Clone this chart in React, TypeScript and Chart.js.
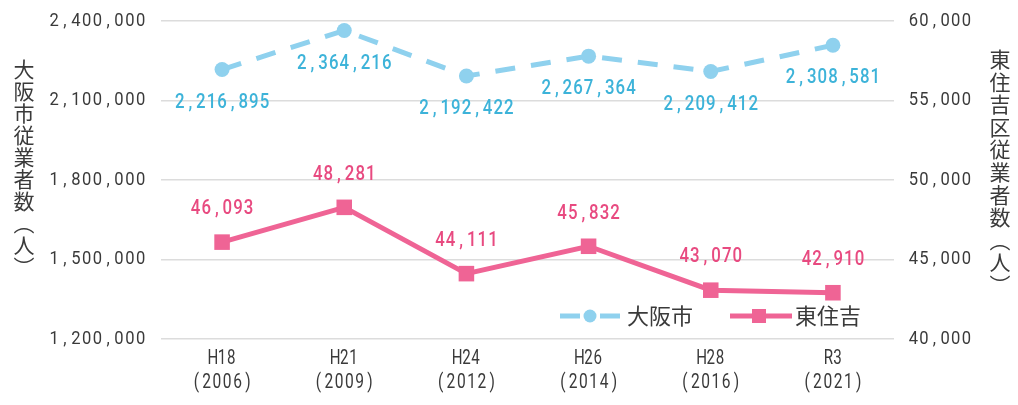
import React, { useEffect, useRef } from "react";
import { Chart, registerables } from "chart.js";

Chart.register(...registerables);

const yearLabels: string[] = ["H18", "H21", "H24", "H26", "H28", "R3"];
const yearNumbers: string[] = ["(2006)", "(2009)", "(2012)", "(2014)", "(2016)", "(2021)"];
const osakaValues: number[] = [2216895, 2364216, 2192422, 2267364, 2209412, 2308581];
const higashiValues: number[] = [46093, 48281, 44111, 45832, 43070, 42910];
const seriesNames: string[] = ["大阪市", "東住吉"];
const leftTitle: string[] = ["大", "阪", "市", "従", "業", "者", "数", "︵", "人", "︶"];
const rightTitle: string[] = ["東", "住", "吉", "区", "従", "業", "者", "数", "︵", "人", "︶"];

const BLUE = "#8fd1ee";
const BLUE_TEXT = "#3db3d9";
const PINK = "#ef6495";
const PINK_TEXT = "#e84a80";
const TEXT = "#3a3a3a";
const SANS = "Roboto, sans-serif";
const JP = "'Noto Sans CJK JP', sans-serif";

const fmt = (v: number) => v.toLocaleString("en-US");

// draw text in fixed-width cells (monospaced look, condensed glyphs)
function drawCells(
  ctx: CanvasRenderingContext2D,
  text: string,
  x: number,
  y: number,
  pitch: number,
  xscale: number,
  align: "left" | "right" | "center"
) {
  const chars = Array.from(text);
  const total = chars.length * pitch;
  let start = x;
  if (align === "right") start = x - total;
  else if (align === "center") start = x - total / 2;
  ctx.save();
  ctx.textAlign = "center";
  ctx.textBaseline = "middle";
  chars.forEach((c, i) => {
    const cx = start + pitch * (i + 0.5);
    ctx.save();
    ctx.translate(cx, y);
    ctx.scale(xscale, 1);
    ctx.fillText(c, 0, 0);
    ctx.restore();
  });
  ctx.restore();
}

const overlayPlugin = {
  id: "overlay",
  afterDraw(chart: any) {
    const ctx: CanvasRenderingContext2D = chart.ctx;
    ctx.save();

    // y tick labels
    const yl = chart.scales.y;
    const yr = chart.scales.y1;
    ctx.fillStyle = TEXT;
    ctx.font = `18px ${SANS}`;
    yl.ticks.forEach((t: any) => {
      const py = yl.getPixelForValue(t.value);
      drawCells(ctx, fmt(t.value), 146, py, 10.8, 0.92, "right");
    });
    yr.ticks.forEach((t: any) => {
      const py = yr.getPixelForValue(t.value);
      drawCells(ctx, fmt(t.value), 908, py, 10.6, 0.92, "left");
    });

    // x tick labels
    const xs = chart.scales.x;
    ctx.font = `21px ${SANS}`;
    yearLabels.forEach((lab, i) => {
      const px = xs.getPixelForValue(i);
      drawCells(ctx, lab, px, 359, 9.2, 0.72, "center");
      drawCells(ctx, yearNumbers[i], px, 383, 10.3, 0.74, "center");
    });

    // data labels
    ctx.font = `500 21px ${SANS}`;
    const m0 = chart.getDatasetMeta(0);
    ctx.fillStyle = BLUE_TEXT;
    m0.data.forEach((pt: any, i: number) => {
      drawCells(ctx, fmt(osakaValues[i]), pt.x, pt.y + 33, 10.6, 0.8, "center");
    });
    const m1 = chart.getDatasetMeta(1);
    ctx.fillStyle = PINK_TEXT;
    m1.data.forEach((pt: any, i: number) => {
      drawCells(ctx, fmt(higashiValues[i]), pt.x, pt.y - 33, 10.6, 0.8, "center");
    });

    // axis titles (vertical)
    ctx.fillStyle = TEXT;
    ctx.textAlign = "center";
    ctx.textBaseline = "middle";
    ctx.font = `21px ${JP}`;
    leftTitle.forEach((c, i) => {
      ctx.fillText(c, 24, 69 + i * 22);
    });
    rightTitle.forEach((c, i) => {
      ctx.fillText(c, 1000, 59 + i * 22.6);
    });

    // legend
    const ly = 316;
    ctx.strokeStyle = BLUE;
    ctx.lineWidth = 5;
    ctx.setLineDash([]);
    ctx.beginPath();
    ctx.moveTo(560, ly);
    ctx.lineTo(580, ly);
    ctx.moveTo(600, ly);
    ctx.lineTo(620, ly);
    ctx.stroke();
    ctx.fillStyle = BLUE;
    ctx.beginPath();
    ctx.arc(590, ly, 6.5, 0, Math.PI * 2);
    ctx.fill();
    ctx.fillStyle = TEXT;
    ctx.font = `22px ${JP}`;
    ctx.textAlign = "left";
    ctx.fillText(seriesNames[0], 627, ly);

    ctx.strokeStyle = PINK;
    ctx.beginPath();
    ctx.moveTo(730, ly);
    ctx.lineTo(792, ly);
    ctx.stroke();
    ctx.fillStyle = PINK;
    ctx.fillRect(752, ly - 7, 14, 14);
    ctx.fillStyle = TEXT;
    ctx.fillText(seriesNames[1], 795, ly);
    ctx.restore();
  },
};

export default function App() {
  const ref = useRef<HTMLCanvasElement | null>(null);
  useEffect(() => {
    if (!ref.current) return;
    const chart = new Chart(ref.current, {
      type: "line",
      data: {
        labels: yearLabels,
        datasets: [
          {
            label: seriesNames[0],
            data: osakaValues,
            yAxisID: "y",
            borderColor: BLUE,
            backgroundColor: BLUE,
            borderWidth: 5,
            borderDash: [20, 16],
            pointStyle: "circle",
            pointRadius: 7.5,
            pointBorderWidth: 0,
            pointBackgroundColor: BLUE,
            tension: 0,
          },
          {
            label: seriesNames[1],
            data: higashiValues,
            yAxisID: "y1",
            borderColor: PINK,
            backgroundColor: PINK,
            borderWidth: 5,
            pointStyle: "rect",
            pointRadius: 11,
            pointBorderWidth: 0,
            pointBackgroundColor: PINK,
            tension: 0,
          },
        ],
      },
      options: {
        animation: false,
        responsive: false,
        maintainAspectRatio: false,
        layout: { padding: { top: 21, left: 0, right: 0, bottom: 0 } },
        plugins: {
          legend: { display: false },
          tooltip: { enabled: false },
        },
        scales: {
          x: {
            offset: true,
            grid: { display: false, drawTicks: false },
            border: { display: false },
            ticks: { display: false },
            afterFit: (s: any) => {
              s.height = 66;
            },
          },
          y: {
            position: "left",
            min: 1200000,
            max: 2400000,
            grid: { color: "#dcdcdc", lineWidth: 1.5, drawTicks: false },
            border: { display: false },
            ticks: { stepSize: 300000, display: false },
            afterFit: (s: any) => {
              s.width = 161;
            },
          },
          y1: {
            position: "right",
            min: 40000,
            max: 60000,
            grid: { display: false, drawTicks: false },
            border: { display: false },
            ticks: { stepSize: 5000, display: false },
            afterFit: (s: any) => {
              s.width = 124;
            },
          },
        },
      },
      plugins: [overlayPlugin],
    });
    return () => chart.destroy();
  }, []);
  return (
    <div style={{ position: "fixed", left: 0, top: 0, width: 1018, height: 405, background: "#fff" }}>
      <canvas ref={ref} width={1018} height={405} style={{ width: 1018, height: 405 }} />
    </div>
  );
}
